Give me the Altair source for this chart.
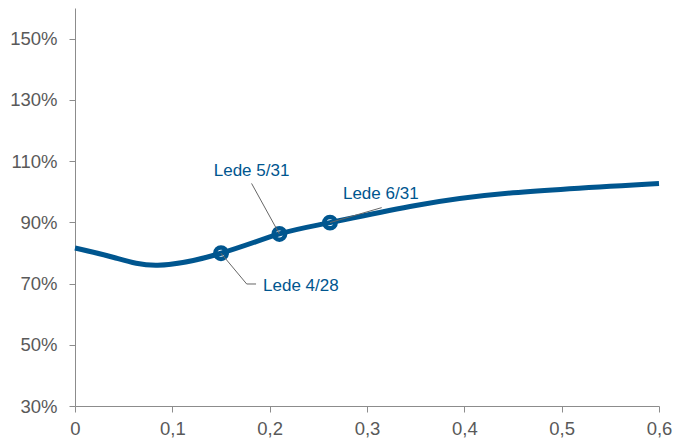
import altair as alt
import pandas as pd

# Curve values (x, percent)
curve_x = [0.0, 0.04, 0.085, 0.15, 0.21, 0.262, 0.35, 0.45, 0.60]
curve_y = [81.6, 78.5, 76.0, 79.9, 86.2, 89.9, 95.5, 99.65, 102.7]

# Highlighted points
point_names = ["Lede 4/28", "Lede 5/31", "Lede 6/31"]
point_x = [0.15, 0.21, 0.262]
point_y = [79.9, 86.2, 89.9]

# Label anchors and alignment
label_x = [0.1932, 0.1814, 0.2753]
label_y = [69.35, 106.6, 99.1]
label_align = ["left", "center", "left"]

# Leader lines: segments from each point towards its label
seg_x = [0.15, 0.1764, 0.21, 0.262]
seg_y = [79.9, 69.85, 86.2, 89.9]
seg_x2 = [0.1764, 0.186, 0.1814, 0.3151]
seg_y2 = [69.85, 69.85, 102.7, 94.8]

x_ticks = [0.0, 0.1, 0.2, 0.3, 0.4, 0.5, 0.6]
y_ticks = [30, 50, 70, 90, 110, 130, 150]

BLUE = "#00568f"
GRAY_TEXT = "#595959"
GRAY_AXIS = "#8c8c8c"
FONT = "Liberation Sans"

curve = pd.DataFrame({"x": curve_x, "y": curve_y})
points = pd.DataFrame({"x": point_x, "y": point_y, "name": point_names})
labels = pd.DataFrame({"x": label_x, "y": label_y, "name": point_names, "align": label_align})
segs = pd.DataFrame({"x": seg_x, "y": seg_y, "x2": seg_x2, "y2": seg_y2})

x_scale = alt.Scale(domain=[0, 0.6], nice=False, zero=False)
y_scale = alt.Scale(domain=[30, 160], nice=False, zero=False)

x_axis = alt.Axis(
    values=x_ticks, grid=False, title=None,
    labelExpr="datum.value == 0 ? '0' : replace(format(datum.value, '.1f'), '.', ',')",
    labelFlush=False, labelPadding=7, tickSize=6,
)
y_axis = alt.Axis(
    values=y_ticks, grid=False, title=None,
    labelExpr="datum.value + '%'", labelPadding=12, tickSize=6,
)

line = alt.Chart(curve).mark_line(
    color=BLUE, strokeWidth=5, interpolate="natural"
).encode(
    x=alt.X("x:Q", scale=x_scale, axis=x_axis),
    y=alt.Y("y:Q", scale=y_scale, axis=y_axis),
)

rings = alt.Chart(points).mark_point(
    shape="circle", filled=False, color=BLUE, strokeWidth=4.5, size=130, opacity=1
).encode(x=alt.X("x:Q", scale=x_scale), y=alt.Y("y:Q", scale=y_scale))

leaders = alt.Chart(segs).mark_rule(color="#666666", strokeWidth=1).encode(
    x=alt.X("x:Q", scale=x_scale), y=alt.Y("y:Q", scale=y_scale),
    x2="x2:Q", y2="y2:Q",
)

def text_layer(align):
    return alt.Chart(labels[labels["align"] == align]).mark_text(
        align=align, baseline="middle", font=FONT, fontSize=17, color=BLUE
    ).encode(
        x=alt.X("x:Q", scale=x_scale), y=alt.Y("y:Q", scale=y_scale), text="name:N"
    )

chart = alt.layer(
    line, rings, leaders, text_layer("left"), text_layer("center")
).properties(
    width=584, height=398,
    autosize=alt.AutoSizeParams(type="none"),
    padding={"left": 75, "top": 8, "right": 14, "bottom": 33},
    background="white",
).configure_view(stroke=None).configure_axis(
    domainColor=GRAY_AXIS, tickColor=GRAY_AXIS, domainWidth=1, tickWidth=1,
    labelColor=GRAY_TEXT, labelFont=FONT, labelFontSize=18.5,
)

chart.save("out.html", embed_options={"renderer": "svg", "actions": False})
